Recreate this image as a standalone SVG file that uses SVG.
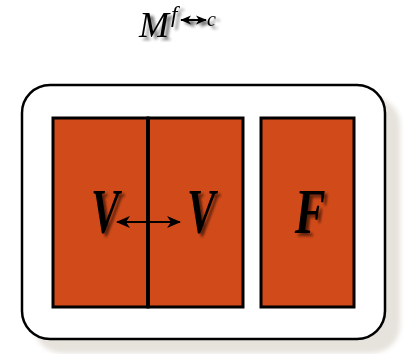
<svg xmlns="http://www.w3.org/2000/svg" width="404" height="354" viewBox="0 0 404 354">
  <defs>
    <filter id="soft" x="-20%" y="-20%" width="160%" height="160%">
      <feGaussianBlur stdDeviation="2.5"/>
    </filter>
    <filter id="txtshadow" x="-30%" y="-30%" width="180%" height="180%">
      <feGaussianBlur in="SourceAlpha" stdDeviation="1.8"/>
      <feOffset dx="4" dy="3" result="b"/>
      <feComponentTransfer in="b" result="s"><feFuncA type="linear" slope="0.55"/></feComponentTransfer>
      <feMerge><feMergeNode in="s"/><feMergeNode in="SourceGraphic"/></feMerge>
    </filter>
    <marker id="ah" viewBox="0 0 14 12" refX="13" refY="6" markerWidth="14" markerHeight="12" orient="auto-start-reverse" markerUnits="userSpaceOnUse">
      <path d="M0,0 L14,6 L0,12 L4,6 Z" fill="#000"/>
    </marker>
    <marker id="ahs" viewBox="0 0 14 12" refX="13" refY="6" markerWidth="11" markerHeight="10" orient="auto-start-reverse" markerUnits="userSpaceOnUse">
      <path d="M0,0 L14,6 L0,12 L4,6 Z" fill="#000"/>
    </marker>
  </defs>
  <style>
    .cell { fill: #d14a19; stroke: #000; stroke-width: 3; }
    .lbl { font-family: "Liberation Serif", "Times New Roman", serif; font-style: italic; fill: #000; }
    .big { font-weight: bold; font-size: 64px; }
  </style>
  <rect width="404" height="354" fill="#fff"/>

  <!-- title -->
  <g id="title" filter="url(#txtshadow)">
    <text class="lbl" x="139" y="37" font-size="36">M</text>
    <text class="lbl" x="171" y="22" font-size="23">f</text>
    <line x1="181" y1="20" x2="206" y2="20" stroke="#000" stroke-width="2" marker-start="url(#ahs)" marker-end="url(#ahs)"/>
    <text class="lbl" x="207" y="26" font-size="20">c</text>
  </g>

  <!-- container with shadow -->
  <g id="container">
    <rect x="34" y="97" width="366" height="256" rx="28" fill="#e6e2dc" filter="url(#soft)"/>
    <rect x="22" y="85" width="363" height="254" rx="28" fill="#fff" stroke="#000" stroke-width="2.5"/>
  </g>

  <g id="v-left">
    <rect class="cell" x="53" y="118" width="95" height="189"/>
    <text class="lbl big" transform="translate(105,233) scale(0.66,1)" text-anchor="middle" filter="url(#txtshadow)">V</text>
  </g>
  <g id="v-right">
    <rect class="cell" x="148" y="118" width="95" height="189"/>
    <text class="lbl big" transform="translate(201,233) scale(0.66,1)" text-anchor="middle" filter="url(#txtshadow)">V</text>
  </g>
  <g id="f-cell">
    <rect class="cell" x="261" y="118" width="93" height="189"/>
    <text class="lbl big" transform="translate(310,233) scale(0.72,1)" text-anchor="middle" filter="url(#txtshadow)">F</text>
  </g>

  <g id="connectors">
    <line x1="148" y1="118" x2="148" y2="307" stroke="#000" stroke-width="4"/>
    <line x1="117" y1="222" x2="180" y2="222" stroke="#000" stroke-width="2" marker-start="url(#ah)" marker-end="url(#ah)"/>
  </g>
</svg>
